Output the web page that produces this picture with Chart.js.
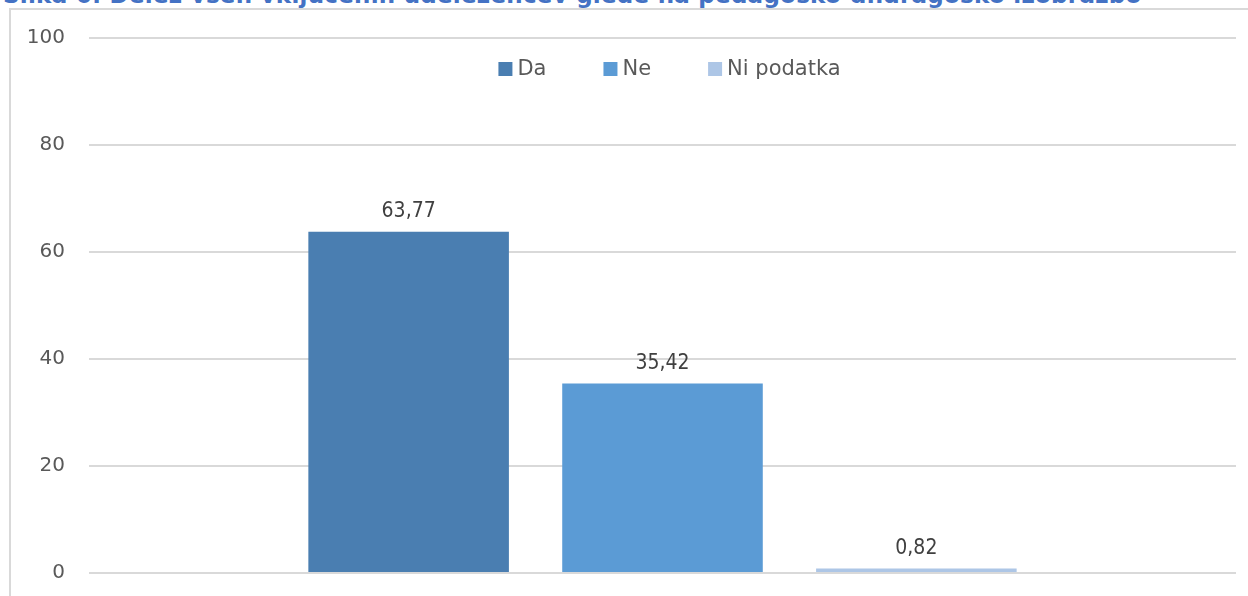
<!DOCTYPE html>
<html>
<head>
<meta charset="utf-8">
<script src="https://cdn.jsdelivr.net/npm/chart.js@4.4.1/dist/chart.umd.min.js"></script>
<style>
  html, body { margin: 0; padding: 0; width: 1248px; height: 596px; overflow: hidden; background: #fff; }
  #title { position: absolute; left: 3px; top: -16px; font: bold 23px "DejaVu Sans"; line-height: 23px; letter-spacing: 0.25px; color: #4472c4; white-space: nowrap; }
  #frame { position: absolute; left: 9px; top: 8px; width: 1400px; height: 700px; border-left: 2px solid #d9d9d9; border-top: 2px solid #d9d9d9; }
  #wrap { position: absolute; left: 0; top: 0; width: 1248px; height: 596px; }
</style>
</head>
<body>
<div id="title">Slika 6: Delež vseh vključenih udeležencev glede na pedagoško-andragoško izobrazbo</div>
<div id="frame"></div>
<div id="wrap"><canvas id="barChart"></canvas></div>
<script>
// Chart data
const categories = [''];
const seriesNames = ['Da', 'Ne', 'Ni podatka'];
const daValues = [63.77];
const neValues = [35.42];
const niPodatkaValues = [0.82];
const yTicks = [0, 20, 40, 60, 80, 100];

const seriesColors = ['#4a7eb1', '#5b9bd5', '#adc6e6'];
const fontFamily = '"DejaVu Sans", Verdana, sans-serif';

// Function to format a value with decimal comma
function formatValue(v) {
  return v.toFixed(2).replace('.', ',');
}

// Plugin to draw value labels above the bars
const valueLabels = {
  id: 'valueLabels',
  afterDatasetsDraw(chart) {
    const ctx = chart.ctx;
    ctx.save();
    ctx.font = '21px "DejaVu Sans Condensed", ' + fontFamily;
    ctx.fillStyle = '#404040';
    ctx.textAlign = 'center';
    ctx.textBaseline = 'middle';
    chart.data.datasets.forEach((ds, i) => {
      chart.getDatasetMeta(i).data.forEach((bar, j) => {
        ctx.fillText(formatValue(ds.data[j]), bar.x, bar.y - 20);
      });
    });
    ctx.restore();
  }
};

// Plugin to draw the legend inside the plot area (like Excel)
const insideLegend = {
  id: 'insideLegend',
  afterDraw(chart) {
    const ctx = chart.ctx;
    const area = chart.chartArea;
    const box = 14, gap = 5, spacing = 57;
    ctx.save();
    ctx.font = '21px ' + fontFamily;
    ctx.textBaseline = 'middle';
    const widths = chart.data.datasets.map(ds => box + gap + ctx.measureText(ds.label).width);
    const total = widths.reduce((a, b) => a + b, 0) + spacing * (widths.length - 1);
    let x = (area.left + area.right) / 2 + 7 - total / 2;
    const y = 69;
    chart.data.datasets.forEach((ds, i) => {
      ctx.fillStyle = ds.backgroundColor;
      ctx.fillRect(x, y - box / 2, box, box);
      ctx.fillStyle = '#595959';
      ctx.fillText(ds.label, x + box + gap, y + 1);
      x += widths[i] + spacing;
    });
    ctx.restore();
  }
};

const allValues = [daValues, neValues, niPodatkaValues];
const datasets = seriesNames.map((name, i) => ({
  label: name,
  data: allValues[i],
  backgroundColor: seriesColors[i],
  borderWidth: 0,
  categoryPercentage: 0.664,
  barPercentage: 0.79
}));

const ctx = document.getElementById('barChart').getContext('2d');

const myBarChart = new Chart(ctx, {
  type: 'bar',
  data: {
    labels: categories,
    datasets: datasets
  },
  options: {
    responsive: true,
    maintainAspectRatio: false,
    animation: false,
    layout: {
      padding: { left: 27, right: 12, top: 38, bottom: 23 }
    },
    plugins: {
      legend: { display: false },
      tooltip: { enabled: false }
    },
    scales: {
      x: {
        display: false
      },
      y: {
        min: yTicks[0],
        max: yTicks[yTicks.length - 1],
        afterBuildTicks: axis => {
          axis.ticks = yTicks.map(v => ({ value: v }));
        },
        // keep the axis narrow and stop it from adding extra space above/below
        afterFit: axis => {
          axis.width = 62;
          axis.paddingTop = 0;
          axis.paddingBottom = 0;
        },
        border: { display: false },
        grid: {
          color: '#d9d9d9',
          lineWidth: 2,
          drawTicks: false
        },
        ticks: {
          padding: 24,
          color: '#595959',
          font: { family: fontFamily, size: 20 }
        }
      }
    }
  },
  plugins: [valueLabels, insideLegend]
});
</script>
</body>
</html>
